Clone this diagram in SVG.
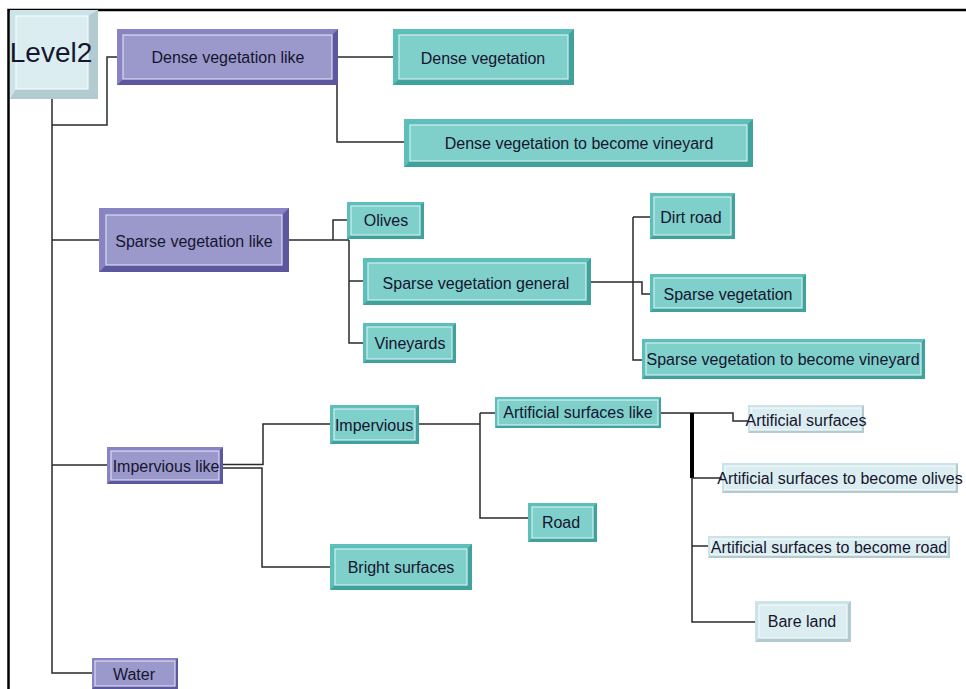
<svg xmlns="http://www.w3.org/2000/svg" width="966" height="689" viewBox="0 0 966 689">
  <style>
    .lbl{font-family:"Liberation Sans",Arial,sans-serif;font-size:16px;fill:#15152e;text-anchor:middle}
    .big{font-size:28px}
    .p .lo{fill:#5c58a0}.p .hi{fill:#8884c3}.p .face{fill:#9b99cc;stroke:#dadaf2;stroke-width:1.2}
    .t .lo{fill:#3fa29d}.t .hi{fill:#5cbfba}.t .face{fill:#7fcfcb;stroke:#d2efed;stroke-width:1.2}
    .l .lo{fill:#b2cbd0}.l .hi{fill:#cce4e8}.l .face{fill:#dcedf1;stroke:#f4fbfc;stroke-width:1.2}
    .wire path{fill:none;stroke:#2a2a2a;stroke-width:1.5}
    .wire .thick{stroke:#000;stroke-width:4}
    .frame{fill:none;stroke:#000;stroke-width:2.5}
  </style>

  <rect width="966" height="689" fill="#fff"/>
  <path class="frame" d="M8.5,689 V10 H966"/>

  <!-- connectors -->
  <g id="connectors" class="wire">
    <path d="M52,99 V673 H92"/>
    <path d="M52,125 H107 V57 H117"/>
    <path d="M52,240 H99"/>
    <path d="M52,465 H107"/>
    <path d="M338,57 H393"/>
    <path d="M337,85 V142 H404"/>
    <path d="M289,240 H349"/>
    <path d="M333,240 V220 H347"/>
    <path d="M349,240 V343 H363"/>
    <path d="M349,281 H363"/>
    <path d="M591,282 H642 V294 H650"/>
    <path d="M633,217 H650"/>
    <path d="M633,217 V360 H642"/>
    <path d="M223,464.5 H263 V424 H330"/>
    <path d="M223,468 H262 V567 H330"/>
    <path d="M419,424 H480"/>
    <path d="M480,413 V518 H528"/>
    <path d="M480,413 H495"/>
    <path d="M661,413 H733 V421 H748"/>
    <path class="thick" d="M692,413 V478"/>
    <path d="M692,478 V622 H755"/>
    <path d="M692,478 H722"/>
    <path d="M692,546 H708"/>
  </g>

  <!-- nodes -->
  <g id="level2" class="l">
    <rect class="lo" x="10" y="10" width="88" height="89"/>
    <polygon class="hi" points="10,10 98,10 88,16 16,16 16,89 10,99"/>
    <rect class="face" x="16" y="16" width="72" height="73"/>
    <text class="lbl big" x="51" y="62">Level2</text>
  </g>

  <g id="dense-vegetation-like" class="p">
    <rect class="lo" x="117" y="29" width="221" height="56"/>
    <polygon class="hi" points="117,29 338,29 332,35 123,35 123,79 117,85"/>
    <rect class="face" x="123" y="35" width="209" height="44"/>
    <text class="lbl" x="228" y="63">Dense vegetation like</text>
  </g>

  <g id="dense-vegetation" class="t">
    <rect class="lo" x="393" y="29" width="181" height="56"/>
    <polygon class="hi" points="393,29 574,29 568,35 399,35 399,79 393,85"/>
    <rect class="face" x="399" y="35" width="169" height="44"/>
    <text class="lbl" x="483" y="64">Dense vegetation</text>
  </g>

  <g id="dense-vegetation-to-vineyard" class="t">
    <rect class="lo" x="404" y="119" width="349" height="48"/>
    <polygon class="hi" points="404,119 753,119 747,125 410,125 410,161 404,167"/>
    <rect class="face" x="410" y="125" width="337" height="36"/>
    <text class="lbl" x="579" y="149">Dense vegetation to become vineyard</text>
  </g>

  <g id="sparse-vegetation-like" class="p">
    <rect class="lo" x="99" y="208" width="190" height="64"/>
    <polygon class="hi" points="99,208 289,208 282,215 106,215 106,265 99,272"/>
    <rect class="face" x="106" y="215" width="176" height="50"/>
    <text class="lbl" x="194" y="247">Sparse vegetation like</text>
  </g>

  <g id="olives" class="t">
    <rect class="lo" x="347" y="202" width="77" height="37"/>
    <polygon class="hi" points="347,202 424,202 420,206 351,206 351,235 347,239"/>
    <rect class="face" x="351" y="206" width="69" height="29"/>
    <text class="lbl" x="386" y="226">Olives</text>
  </g>

  <g id="sparse-vegetation-general" class="t">
    <rect class="lo" x="363" y="258" width="228" height="47"/>
    <polygon class="hi" points="363,258 591,258 586,263 368,263 368,300 363,305"/>
    <rect class="face" x="368" y="263" width="218" height="37"/>
    <text class="lbl" x="476" y="289">Sparse vegetation general</text>
  </g>

  <g id="vineyards" class="t">
    <rect class="lo" x="363" y="323" width="93" height="40"/>
    <polygon class="hi" points="363,323 456,323 452,327 367,327 367,359 363,363"/>
    <rect class="face" x="367" y="327" width="85" height="32"/>
    <text class="lbl" x="410" y="349">Vineyards</text>
  </g>

  <g id="dirt-road" class="t">
    <rect class="lo" x="650" y="193" width="85" height="46"/>
    <polygon class="hi" points="650,193 735,193 731,197 654,197 654,235 650,239"/>
    <rect class="face" x="654" y="197" width="77" height="38"/>
    <text class="lbl" x="691" y="223">Dirt road</text>
  </g>

  <g id="sparse-vegetation" class="t">
    <rect class="lo" x="650" y="274" width="156" height="38"/>
    <polygon class="hi" points="650,274 806,274 802,278 654,278 654,308 650,312"/>
    <rect class="face" x="654" y="278" width="148" height="30"/>
    <text class="lbl" x="728" y="300">Sparse vegetation</text>
  </g>

  <g id="sparse-vegetation-to-vineyard" class="t">
    <rect class="lo" x="642" y="339" width="283" height="40"/>
    <polygon class="hi" points="642,339 925,339 921,343 646,343 646,375 642,379"/>
    <rect class="face" x="646" y="343" width="275" height="32"/>
    <text class="lbl" x="783" y="365">Sparse vegetation to become vineyard</text>
  </g>

  <g id="impervious-like" class="p">
    <rect class="lo" x="107" y="447" width="116" height="37"/>
    <polygon class="hi" points="107,447 223,447 219,451 111,451 111,480 107,484"/>
    <rect class="face" x="111" y="451" width="108" height="29"/>
    <text class="lbl" x="166" y="472">Impervious like</text>
  </g>

  <g id="impervious" class="t">
    <rect class="lo" x="330" y="405" width="89" height="39"/>
    <polygon class="hi" points="330,405 419,405 415,409 334,409 334,440 330,444"/>
    <rect class="face" x="334" y="409" width="81" height="31"/>
    <text class="lbl" x="374" y="431">Impervious</text>
  </g>

  <g id="bright-surfaces" class="t">
    <rect class="lo" x="330" y="544" width="142" height="46"/>
    <polygon class="hi" points="330,544 472,544 467,549 335,549 335,585 330,590"/>
    <rect class="face" x="335" y="549" width="132" height="36"/>
    <text class="lbl" x="401" y="573">Bright surfaces</text>
  </g>

  <g id="artificial-surfaces-like" class="t">
    <rect class="lo" x="495" y="397" width="166" height="31"/>
    <polygon class="hi" points="495,397 661,397 658,400 498,400 498,425 495,428"/>
    <rect class="face" x="498" y="400" width="160" height="25"/>
    <text class="lbl" x="578" y="418">Artificial surfaces like</text>
  </g>

  <g id="road" class="t">
    <rect class="lo" x="528" y="503" width="69" height="39"/>
    <polygon class="hi" points="528,503 597,503 593,507 532,507 532,538 528,542"/>
    <rect class="face" x="532" y="507" width="61" height="31"/>
    <text class="lbl" x="561" y="528">Road</text>
  </g>

  <g id="artificial-surfaces" class="l">
    <rect class="lo" x="748" y="405" width="116" height="28"/>
    <polygon class="hi" points="748,405 864,405 861,408 751,408 751,430 748,433"/>
    <rect class="face" x="751" y="408" width="110" height="22"/>
    <text class="lbl" x="806" y="426">Artificial surfaces</text>
  </g>

  <g id="artificial-surfaces-to-olives" class="l">
    <rect class="lo" x="722" y="463" width="236" height="30"/>
    <polygon class="hi" points="722,463 958,463 955,466 725,466 725,490 722,493"/>
    <rect class="face" x="725" y="466" width="230" height="24"/>
    <text class="lbl" x="840" y="484">Artificial surfaces to become olives</text>
  </g>

  <g id="artificial-surfaces-to-road" class="l">
    <rect class="lo" x="708" y="536" width="242" height="22"/>
    <polygon class="hi" points="708,536 950,536 947,539 711,539 711,555 708,558"/>
    <rect class="face" x="711" y="539" width="236" height="16"/>
    <text class="lbl" x="829" y="553">Artificial surfaces to become road</text>
  </g>

  <g id="bare-land" class="l">
    <rect class="lo" x="755" y="601" width="96" height="41"/>
    <polygon class="hi" points="755,601 851,601 847,605 759,605 759,638 755,642"/>
    <rect class="face" x="759" y="605" width="88" height="33"/>
    <text class="lbl" x="802" y="627">Bare land</text>
  </g>

  <g id="water" class="p">
    <rect class="lo" x="92" y="658" width="86" height="31"/>
    <polygon class="hi" points="92,658 178,658 175,661 95,661 95,686 92,689"/>
    <rect class="face" x="95" y="661" width="80" height="25"/>
    <text class="lbl" x="134" y="680">Water</text>
  </g>
</svg>
